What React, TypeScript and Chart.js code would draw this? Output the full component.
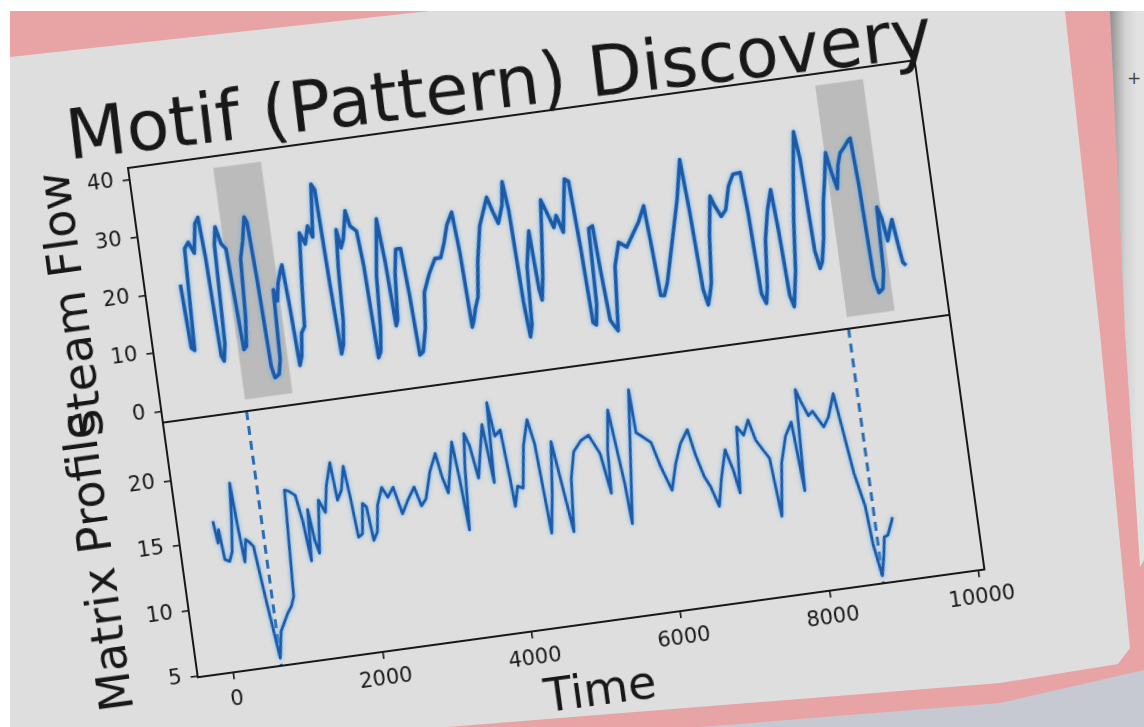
import React, { useEffect, useRef } from 'react';
import { Chart, registerables } from 'chart.js';

Chart.register(...registerables);

// ---------------- data ----------------
const TITLE = 'Motif (Pattern) Discovery';
const TOP_LABEL = 'Steam Flow';
const MP_LABEL = 'Matrix Profile';
const X_LABEL = 'Time';

const TOP_X = [
  0, 30, 70, 120, 178, 240, 300, 351, 380, 410,
  440, 480, 520, 560, 610, 665, 690, 720, 760, 800,
  840, 900, 960, 990, 1020, 1050, 1080, 1140, 1180, 1214,
  1250, 1290, 1340, 1372, 1400, 1430, 1470, 1510, 1560, 1600,
  1660, 1720, 1780, 1830, 1900, 1940, 1970, 2000, 2040, 2080,
  2110, 2150, 2184, 2230, 2302, 2340, 2417, 2450, 2480, 2520,
  2560, 2600, 2700, 2740, 2770, 2800, 2850, 2900, 2966, 3000,
  3030, 3080, 3150, 3200, 3296, 3400, 3478, 3550, 3620, 3704,
  3740, 3770, 3800, 3842, 3900, 3960, 4050, 4192, 4250, 4300,
  4380, 4424, 4460, 4490, 4520, 4560, 4600, 4687, 4717, 4740,
  4790, 4850, 4898, 4950, 5024, 5075, 5141, 5200, 5250, 5300,
  5340, 5370, 5410, 5450, 5480, 5535, 5560, 5600, 5640, 5686,
  5720, 5760, 5850, 5950, 6050, 6150, 6245, 6280, 6310, 6358,
  6420, 6500, 6600, 6700, 6804, 6840, 6880, 6920, 6960, 7000,
  7060, 7137, 7180, 7250, 7320, 7400, 7480, 7579, 7610, 7640,
  7690, 7730, 7790, 7870, 7948, 7980, 8010, 8050, 8090, 8130,
  8200, 8280, 8354, 8390, 8420, 8460, 8500, 8560, 8620, 8680,
  8738, 8780, 8830, 8880, 8930, 9000, 9060, 9089, 9120, 9150,
  9190, 9250, 9290, 9316, 9360, 9400, 9450, 9492, 9530, 9560,
  9599,
];
const TOP_Y = [
  21, 10, 9.5, 27, 28, 26, 31, 32, 25, 8,
  7, 10, 27, 30, 27, 26, 18, 8.5, 9, 14,
  24, 27, 31, 30, 20, 5, 3, 3.5, 6, 18,
  16, 19, 21, 22, 15, 4.5, 6, 10, 11, 18,
  27, 25, 28, 26, 35, 34, 18, 5.5, 7, 11,
  20, 26.7, 23.5, 25, 29.7, 27, 26, 20, 4, 5,
  9, 18, 27.6, 20, 9, 10, 18, 22, 22, 14,
  3.5, 4, 8, 14, 17, 19.5, 19.5, 22, 25, 27,
  20, 7, 8, 10, 12, 18, 24, 28.7, 26, 24,
  27, 31, 26, 10, 4, 6, 16, 22, 12, 10,
  14, 21, 27, 25, 22, 24, 21, 26, 30, 29.5,
  18, 5, 4.5, 8, 21, 21.4, 14, 5, 4, 3,
  8, 14, 18, 17, 19, 21, 23.6, 16, 8, 7.9,
  10, 14, 19, 24, 30.6, 22, 8, 5.3, 7, 9,
  17, 23.7, 22, 20, 21, 25, 26.9, 27, 20, 6,
  4.2, 7, 15, 20, 23.4, 16, 5, 3, 6, 9,
  18, 26, 32.7, 28, 12, 8.9, 10, 14, 20, 24,
  28.4, 25, 22, 26, 28, 29, 30, 30.3, 22, 6,
  3.4, 4, 7, 18, 16, 12, 14, 15.5, 11, 8,
  7.4,
];

const MP_X = [
  0, 30, 60, 90, 150, 200, 250, 290, 320, 350,
  400, 450, 490, 560, 643, 700, 821, 883, 930, 1000,
  1050, 1132, 1185, 1230, 1270, 1310, 1350, 1429, 1500, 1560,
  1647, 1681, 1750, 1817, 1857, 1892, 1950, 2003, 2050, 2088,
  2150, 2200, 2285, 2350, 2436, 2514, 2600, 2714, 2778, 2850,
  2950, 3052, 3100, 3155, 3220, 3290, 3330, 3367, 3420, 3466,
  3520, 3580, 3650, 3720, 3779, 3823, 3870, 3951, 3990, 4014,
  4080, 4150, 4230, 4323, 4380, 4445, 4520, 4600, 4680, 4740,
  4800, 4880, 5000, 5105, 5225, 5303, 5331, 5404, 5496, 5524,
  5600, 5715, 5736, 5800, 5917, 6000, 6108, 6200, 6300, 6417,
  6480, 6556, 6620, 6702, 6780, 6879, 6950, 7001, 7072, 7150,
  7234, 7300, 7378, 7450, 7508, 7600, 7700, 7800, 7856, 7912,
  7960, 8039, 8100, 8220, 8300, 8405, 8464, 8535, 8624, 8658,
  8724, 8780, 8820, 8870, 8944, 8960,
];
const MP_Y = [
  16.5, 14.8, 15.8, 13.5, 13.3, 14, 16.4, 19.2, 15.7, 13.1,
  14.8, 14.5, 14.2, 10, 5.5, 7.5, 8.8, 9.3, 10, 18.1,
  18, 17.6, 15.6, 12.5, 16.4, 14, 13, 17, 16, 18,
  19.7, 16.8, 17.5, 19.3, 16.7, 13.8, 14, 16.3, 16, 13.4,
  14, 16, 17.3, 16.5, 17.2, 15.1, 16, 17, 15.5, 16,
  18, 19.3, 17.5, 16.2, 18, 20, 17, 13.2, 18, 20.5,
  19.5, 17, 19, 21, 16.5, 22.6, 20, 20.4, 17, 14.5,
  16, 15.8, 19, 20.9, 19, 12.1, 15, 19, 15, 12,
  16, 18, 18.8, 19.1, 17.6, 14.5, 17.8, 20.8, 15.1, 12,
  16, 22.1, 18.8, 18.5, 17.9, 16, 14.1, 16, 17.5, 18.5,
  16.5, 14.8, 14, 12.4, 14.5, 16.6, 15, 13.2, 18.2, 17.5,
  18.6, 17, 16.2, 15.5, 11, 15, 17, 18, 12.7, 20.4,
  19.5, 18.3, 18.6, 17.3, 18, 19.7, 16.9, 13.5, 10.9, 8,
  5.5, 7, 8.4, 8.5, 9.5, 9.8,
];

const MOTIF_STARTS = [643, 8724];
const WINDOW = 640;
const RECT_Y = [0, 40];

const X_TICKS = [0, 2000, 4000, 6000, 8000, 10000];
const TOP_TICKS = [0, 10, 20, 30, 40];
const MP_TICKS = [5, 10, 15, 20];
const X_RANGE = [-480, 10080];
const TOP_RANGE = [-2, 42];
const MP_RANGE = [4.92, 24.43];

// ---------------- styling / layout ----------------
const FONT = '"DejaVu Sans", "Liberation Sans", sans-serif';
const INK = '#181818';
const LINE_COLOR = '#1c5aa8';
const GLOW = 'rgba(95, 175, 235, 0.9)';
const DASH_COLOR = '#2a6cb4';
const RECT_COLOR = '#bbbbbb';
const PINK = '#e8a3a5';
const SCREEN = '#dedede';
const FLOOR = '#c6c9d1';

const CW = 1001;
const CH = 690;
const PAD = { left: 107, right: 40, top: 67, bottom: 9 };
const Y_AXIS_W = 60;
const X_AXIS_H = 100;
const PLOT_LEFT = PAD.left + Y_AXIS_W;
const PLOT_TOP = PAD.top;
const ANCHOR = { x: 128, y: 168 };
const TILT_DEG = -7.8;

const fixedTicks = (values: number[]) => (scale: any) => {
  scale.ticks = values.map((v) => ({ value: v }));
};

const tickFont = { family: FONT, size: 21 };
const labelFont = { family: FONT, size: 46, lineHeight: 1 };
const axisGrid = { drawOnChartArea: false, drawTicks: true, tickLength: 7, color: INK, lineWidth: 1.6 };
const axisBorder = { display: true, color: INK, width: 2 };

const figurePlugin = {
  id: 'figureDecor',
  beforeDatasetsDraw(chart: any) {
    const { ctx } = chart;
    const { x, yTop, yMp } = chart.scales;
    ctx.save();
    ctx.fillStyle = RECT_COLOR;
    for (const s of MOTIF_STARTS) {
      const x0 = x.getPixelForValue(s);
      const x1 = x.getPixelForValue(s + WINDOW);
      const y0 = yTop.getPixelForValue(RECT_Y[1]);
      const y1 = yTop.getPixelForValue(RECT_Y[0]);
      ctx.fillRect(x0, y0, x1 - x0, y1 - y0);
    }
    ctx.strokeStyle = DASH_COLOR;
    ctx.lineWidth = 3;
    ctx.setLineDash([9, 6]);
    for (const s of MOTIF_STARTS) {
      const px = x.getPixelForValue(s);
      ctx.beginPath();
      ctx.moveTo(px, yMp.top);
      ctx.lineTo(px, yMp.bottom);
      ctx.stroke();
    }
    ctx.restore();
  },
  beforeDatasetDraw(chart: any) {
    const { ctx } = chart;
    ctx.save();
    ctx.shadowColor = GLOW;
    ctx.shadowBlur = 4;
  },
  afterDatasetDraw(chart: any) {
    chart.ctx.restore();
  },
  afterDatasetsDraw(chart: any) {
    const { ctx, chartArea: a } = chart;
    const { yTop } = chart.scales;
    ctx.save();
    ctx.strokeStyle = INK;
    ctx.lineWidth = 2;
    ctx.strokeRect(a.left, a.top, a.right - a.left, a.bottom - a.top);
    ctx.beginPath();
    ctx.moveTo(a.left, yTop.bottom);
    ctx.lineTo(a.right, yTop.bottom);
    ctx.stroke();
    ctx.fillStyle = INK;
    ctx.font = `70px ${FONT}`;
    ctx.textAlign = 'center';
    ctx.textBaseline = 'alphabetic';
    ctx.translate(a.left + 378.5, a.top - 9);
    ctx.rotate((1.0 * Math.PI) / 180);
    ctx.fillText(TITLE, 0, 0);
    ctx.restore();
  },
};

export default function App() {
  const canvasRef = useRef<HTMLCanvasElement>(null);

  useEffect(() => {
    const canvas = canvasRef.current;
    if (!canvas) return;
    const toPoints = (xs: number[], ys: number[]) => xs.map((x, i) => ({ x, y: ys[i] }));
    const chart = new Chart(canvas, {
      type: 'line',
      data: {
        datasets: [
          {
            label: TOP_LABEL,
            data: toPoints(TOP_X, TOP_Y),
            yAxisID: 'yTop',
            borderColor: LINE_COLOR,
            borderWidth: 3.6,
            pointRadius: 0,
            tension: 0,
            borderJoinStyle: 'round',
          },
          {
            label: MP_LABEL,
            data: toPoints(MP_X, MP_Y),
            yAxisID: 'yMp',
            borderColor: LINE_COLOR,
            borderWidth: 2.8,
            pointRadius: 0,
            tension: 0,
            borderJoinStyle: 'round',
          },
        ],
      },
      options: {
        responsive: false,
        animation: false,
        events: [],
        layout: { padding: PAD },
        plugins: {
          legend: { display: false },
          tooltip: { enabled: false },
          title: { display: false },
        },
        scales: {
          x: {
            type: 'linear',
            position: 'bottom',
            min: X_RANGE[0],
            max: X_RANGE[1],
            afterBuildTicks: fixedTicks(X_TICKS),
            afterFit: (s: any) => { s.height = X_AXIS_H; },
            ticks: { font: tickFont, color: INK, padding: 8, maxRotation: 0, autoSkip: false, callback: (v: any) => String(v) },
            grid: axisGrid,
            border: axisBorder,
            title: { display: true, text: X_LABEL, font: labelFont, color: INK, padding: { top: 0, bottom: 7 } },
          },
          yMp: {
            type: 'linear',
            position: 'left',
            stack: 'figure',
            stackWeight: 1,
            min: MP_RANGE[0],
            max: MP_RANGE[1],
            afterBuildTicks: fixedTicks(MP_TICKS),
            afterFit: (s: any) => { s.width = Y_AXIS_W; },
            ticks: { font: tickFont, color: INK, padding: 9, autoSkip: false, callback: (v: any) => String(v) },
            grid: axisGrid,
            border: axisBorder,
            title: { display: true, text: MP_LABEL, font: labelFont, color: INK, padding: { top: -43, bottom: 0 } },
          },
          yTop: {
            type: 'linear',
            position: 'left',
            stack: 'figure',
            stackWeight: 1,
            min: TOP_RANGE[0],
            max: TOP_RANGE[1],
            afterBuildTicks: fixedTicks(TOP_TICKS),
            afterFit: (s: any) => { s.width = Y_AXIS_W; },
            ticks: { font: tickFont, color: INK, padding: 9, autoSkip: false, callback: (v: any) => String(v) },
            grid: axisGrid,
            border: axisBorder,
            title: { display: true, text: TOP_LABEL, font: labelFont, color: INK, padding: { top: -35, bottom: 0 } },
          },
        },
      } as any,
      plugins: [figurePlugin],
    });
    return () => chart.destroy();
  }, []);

  const layer: React.CSSProperties = { position: 'absolute', left: 0, top: 0, width: 1144, height: 727 };

  return (
    <div style={{ position: 'fixed', left: 0, top: 0, width: 1144, height: 727, overflow: 'hidden', background: '#ffffff' }}>
      <div style={{ ...layer, background: PINK, clipPath: 'polygon(10px 11px, 1144px 11px, 1144px 727px, 10px 727px)' }} />
      <div
        style={{
          ...layer,
          background: SCREEN,
          clipPath:
            'polygon(10px 57px, 430px 11px, 1065px 11px, 1100px 333px, 1127px 617px, 1130px 648px, 1118px 664px, 1000px 683px, 560px 718px, 448px 727px, 10px 727px)',
        }}
      />
      <div
        style={{
          position: 'absolute',
          left: 1105,
          top: 0,
          width: 39,
          height: 727,
          background: 'linear-gradient(90deg, #8f8f8f 5px, #d2d2d2 20px, #e2e2e2 32px)',
          clipPath: 'polygon(5px 11px, 39px 11px, 39px 560px, 35px 567px, 20px 333px)',
        }}
      >
        <span style={{ position: 'absolute', left: 22, top: 68, fontFamily: FONT, fontSize: 17, color: '#444' }}>+</span>
      </div>
      <div style={{ ...layer, background: FLOOR, clipPath: 'polygon(700px 727px, 1000px 703px, 1144px 670px, 1144px 727px)' }} />
      <canvas
        ref={canvasRef}
        width={CW}
        height={CH}
        style={{
          position: 'absolute',
          left: ANCHOR.x - PLOT_LEFT,
          top: ANCHOR.y - PLOT_TOP,
          width: CW,
          height: CH,
          transform: `rotate(${TILT_DEG}deg)`,
          transformOrigin: `${PLOT_LEFT}px ${PLOT_TOP}px`,
        }}
      />
    </div>
  );
}
